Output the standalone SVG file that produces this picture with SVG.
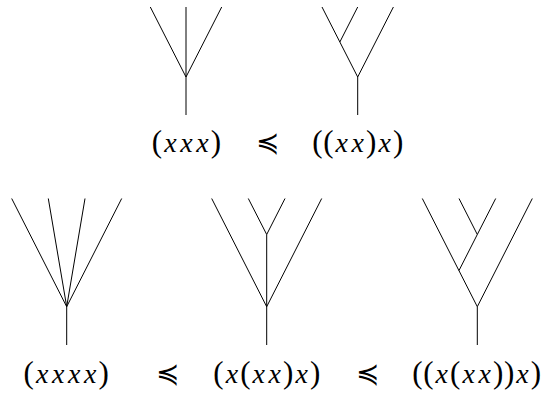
<svg xmlns="http://www.w3.org/2000/svg" width="542" height="394" viewBox="0 0 542 394">
<style>
.e{fill:none;stroke:#000;stroke-width:1;stroke-linecap:butt}
.p{font-size:31px}
.v{font-style:italic;font-size:28px}
</style>
<rect width="542" height="394" fill="#fff"/>
<g id="connectors">
  <path class="e" d="M150.3,7 L186,77 L221.7,7 M186,7 L186,115"/>
  <path class="e" d="M322,7 L357.7,77 L393.4,7 M357.7,7 L339.85,42 M357.7,77 L357.7,115"/>
  <path class="e" d="M11.7,198.5 L66.7,306.7 L121.7,198.5 M48.3,198.5 L66.7,306.7 L85,198.5 M66.7,306.7 L66.7,345"/>
  <path class="e" d="M211.7,198.5 L266.7,306.7 L321.7,198.5 M248.3,198.5 L266.7,234.5 L285,198.5 M266.7,234.5 L266.7,345"/>
  <path class="e" d="M422.3,198.5 L477.3,306.7 L532.3,198.5 M459,198.5 L477.3,234.5 L495.7,198.5 M477.3,234.5 L459,270.5 M477.3,306.7 L477.3,345"/>
</g>
<g id="n1"><text font-family="Liberation Serif" y="152" fill="#000"><tspan class="p" x="151.8">(</tspan><tspan class="v" x="164.2">x</tspan><tspan class="v" x="180.2">x</tspan><tspan class="v" x="196.2">x</tspan><tspan class="p" x="210.7">)</tspan></text></g>
<g id="r1"><text font-family="DejaVu Serif" font-size="28" text-anchor="middle" x="267" y="152" fill="#000">≼</text></g>
<g id="n2"><text font-family="Liberation Serif" y="152" fill="#000"><tspan class="p" x="312.3">(</tspan><tspan class="p" x="323.2">(</tspan><tspan class="v" x="335.6">x</tspan><tspan class="v" x="351.6">x</tspan><tspan class="p" x="366.1">)</tspan><tspan class="v" x="378.5">x</tspan><tspan class="p" x="393">)</tspan></text></g>
<g id="n3"><text font-family="Liberation Serif" y="383" fill="#000"><tspan class="p" x="23.6">(</tspan><tspan class="v" x="36">x</tspan><tspan class="v" x="52">x</tspan><tspan class="v" x="68">x</tspan><tspan class="v" x="84">x</tspan><tspan class="p" x="98.5">)</tspan></text></g>
<g id="r2"><text font-family="DejaVu Serif" font-size="28" text-anchor="middle" x="167" y="383" fill="#000">≼</text></g>
<g id="n4"><text font-family="Liberation Serif" y="383" fill="#000"><tspan class="p" x="213.3">(</tspan><tspan class="v" x="225.7">x</tspan><tspan class="p" x="240.2">(</tspan><tspan class="v" x="252.6">x</tspan><tspan class="v" x="268.6">x</tspan><tspan class="p" x="283.1">)</tspan><tspan class="v" x="295.5">x</tspan><tspan class="p" x="310">)</tspan></text></g>
<g id="r3"><text font-family="DejaVu Serif" font-size="28" text-anchor="middle" x="367" y="383" fill="#000">≼</text></g>
<g id="n5"><text font-family="Liberation Serif" y="383" fill="#000"><tspan class="p" x="412.3">(</tspan><tspan class="p" x="423.2">(</tspan><tspan class="v" x="435.6">x</tspan><tspan class="p" x="450.1">(</tspan><tspan class="v" x="462.5">x</tspan><tspan class="v" x="478.5">x</tspan><tspan class="p" x="493">)</tspan><tspan class="p" x="503.9">)</tspan><tspan class="v" x="516.3">x</tspan><tspan class="p" x="530.8">)</tspan></text></g>
</svg>
